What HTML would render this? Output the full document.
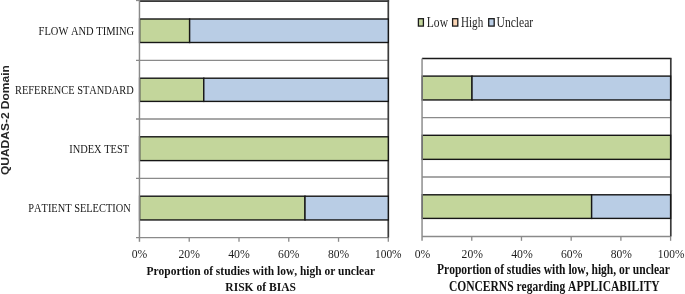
<!DOCTYPE html>
<html><head><meta charset="utf-8"><style>
html,body{margin:0;padding:0;background:#fff;width:685px;height:294px;overflow:hidden}
svg{display:block;will-change:transform}
text{font-kerning:none}
.s{font-family:"Liberation Serif",serif}
.b{font-family:"Liberation Serif",serif;font-weight:bold}
.y{font-family:"Liberation Sans",sans-serif;font-weight:bold}
</style></head><body>
<svg width="685" height="294" viewBox="0 0 685 294">
<rect x="0" y="0" width="685" height="294" fill="#fff"/>
<g stroke="#8a8a8a" stroke-width="1.3" fill="none">
<line x1="136" y1="60.4" x2="388.3" y2="60.4"/>
<line x1="136" y1="119.0" x2="388.3" y2="119.0"/>
<line x1="136" y1="178.4" x2="388.3" y2="178.4"/>
<line x1="136" y1="237.6" x2="388.3" y2="237.6"/>
<line x1="136" y1="0.5" x2="139.46" y2="0.5"/>
<line x1="189.23" y1="237.6" x2="189.23" y2="241.8"/>
<line x1="239.00" y1="237.6" x2="239.00" y2="241.8"/>
<line x1="288.76" y1="237.6" x2="288.76" y2="241.8"/>
<line x1="338.53" y1="237.6" x2="338.53" y2="241.8"/>
<line x1="388.30" y1="237.6" x2="388.30" y2="241.8"/>
</g>
<g stroke="#3c3c3c" fill="none"><line x1="139.46" y1="0.5" x2="389.1" y2="0.5" stroke-width="1" stroke="#5a5a5a"/><line x1="139.46" y1="1.5" x2="389.1" y2="1.5" stroke-width="1" stroke="#383838"/><line x1="388.3" y1="0" x2="388.3" y2="237.6" stroke-width="1.7"/></g>
<g stroke="#161616" stroke-width="1.4">
<rect x="139.61" y="19.0" width="50.02" height="23.50" fill="#C3D69B"/>
<rect x="189.63" y="19.0" width="198.67" height="23.50" fill="#B9CDE5"/>
<rect x="139.61" y="78.2" width="64.17" height="23.20" fill="#C3D69B"/>
<rect x="203.78" y="78.2" width="184.52" height="23.20" fill="#B9CDE5"/>
<rect x="139.61" y="136.8" width="248.69" height="23.80" fill="#C3D69B"/>
<rect x="139.61" y="196.2" width="165.39" height="23.75" fill="#C3D69B"/>
<rect x="305.00" y="196.2" width="83.30" height="23.75" fill="#B9CDE5"/>
</g>
<line x1="139.46" y1="0" x2="139.46" y2="241.8" stroke="#8a8a8a" stroke-width="1.45"/>
<g stroke="#8a8a8a" stroke-width="1.3" fill="none">
<line x1="422.05" y1="117.7" x2="670.6" y2="117.7"/>
<line x1="422.05" y1="177.0" x2="670.6" y2="177.0"/>
<line x1="422.05" y1="236.5" x2="670.6" y2="236.5"/>
<line x1="471.76" y1="236.5" x2="471.76" y2="240.8"/>
<line x1="521.47" y1="236.5" x2="521.47" y2="240.8"/>
<line x1="571.18" y1="236.5" x2="571.18" y2="240.8"/>
<line x1="620.89" y1="236.5" x2="620.89" y2="240.8"/>
<line x1="670.60" y1="236.5" x2="670.60" y2="240.8"/>
</g>
<g stroke="#3c3c3c" fill="none"><line x1="422.05" y1="58.5" x2="671.5" y2="58.5" stroke-width="1.4" stroke="#1a1a1a"/><line x1="670.8000000000001" y1="58.5" x2="670.8000000000001" y2="236.5" stroke-width="1.7"/></g>
<g stroke="#161616" stroke-width="1.4">
<rect x="422.20" y="76.1" width="49.80" height="23.85" fill="#C3D69B"/>
<rect x="472.00" y="76.1" width="198.60" height="23.85" fill="#B9CDE5"/>
<rect x="422.20" y="135.3" width="248.40" height="24.05" fill="#C3D69B"/>
<rect x="422.20" y="194.8" width="169.43" height="23.60" fill="#C3D69B"/>
<rect x="591.63" y="194.8" width="78.97" height="23.60" fill="#B9CDE5"/>
</g>
<line x1="422.05" y1="58.5" x2="422.05" y2="240.8" stroke="#8a8a8a" stroke-width="1.45"/>
<g stroke="#1c1c1c" stroke-width="1.3">
<rect x="418.4" y="18.7" width="5.0" height="7.4" fill="#C3D69B"/>
<rect x="452.6" y="18.7" width="5.2" height="7.4" fill="#FBD5B5"/>
<rect x="488.7" y="18.7" width="5.5" height="7.4" fill="#B9CDE5"/>
</g>
<g class="s" font-size="13.75" fill="#1e1e1e">
  <text x="426.8" y="27.45" textLength="21.2" lengthAdjust="spacingAndGlyphs">Low</text>
  <text x="461.0" y="27.45" textLength="22.2" lengthAdjust="spacingAndGlyphs">High</text>
  <text x="496.6" y="27.45" textLength="36.6" lengthAdjust="spacingAndGlyphs">Unclear</text>
</g>
<g class="s" font-size="12.3" fill="#161616">
  <text x="38.6" y="34.7" textLength="95.5" lengthAdjust="spacingAndGlyphs">FLOW AND TIMING</text>
  <text x="15" y="94.2" textLength="118.8" lengthAdjust="spacingAndGlyphs">REFERENCE STANDARD</text>
  <text x="69.2" y="152.8" textLength="59.9" lengthAdjust="spacingAndGlyphs">INDEX TEST</text>
  <text x="28.3" y="212" textLength="102.4" lengthAdjust="spacingAndGlyphs">PATIENT SELECTION</text>
</g>
<g class="s" font-size="13.5" fill="#1e1e1e" text-anchor="middle">
<text x="139.46" y="258" textLength="15.6" lengthAdjust="spacingAndGlyphs">0%</text>
<text x="189.23" y="258" textLength="21.4" lengthAdjust="spacingAndGlyphs">20%</text>
<text x="239.00" y="258" textLength="21.6" lengthAdjust="spacingAndGlyphs">40%</text>
<text x="288.76" y="258" textLength="21.4" lengthAdjust="spacingAndGlyphs">60%</text>
<text x="338.53" y="258" textLength="21.2" lengthAdjust="spacingAndGlyphs">80%</text>
<text x="388.30" y="258" textLength="26.6" lengthAdjust="spacingAndGlyphs">100%</text>
<text x="422.55" y="257.6" textLength="15.6" lengthAdjust="spacingAndGlyphs">0%</text>
<text x="472.26" y="257.6" textLength="21.4" lengthAdjust="spacingAndGlyphs">20%</text>
<text x="521.97" y="257.6" textLength="21.6" lengthAdjust="spacingAndGlyphs">40%</text>
<text x="571.68" y="257.6" textLength="21.4" lengthAdjust="spacingAndGlyphs">60%</text>
<text x="621.39" y="257.6" textLength="21.2" lengthAdjust="spacingAndGlyphs">80%</text>
<text x="671.10" y="257.6" textLength="26.6" lengthAdjust="spacingAndGlyphs">100%</text>
</g>
<g class="b" font-size="14" fill="#111">
  <text x="146.5" y="275.2" font-size="13.5" textLength="228.5" lengthAdjust="spacingAndGlyphs">Proportion of studies with low, high or unclear</text>
  <text x="225.3" y="290.8" font-size="13.3" textLength="70.6" lengthAdjust="spacingAndGlyphs">RISK of BIAS</text>
  <text x="437" y="274.3" textLength="233" lengthAdjust="spacingAndGlyphs">Proportion of studies with low, high, or unclear</text>
  <text x="448.9" y="291" textLength="210.8" lengthAdjust="spacingAndGlyphs">CONCERNS regarding APPLICABILITY</text>
</g>
<text class="y" font-size="10.2" fill="#262626" transform="translate(8.7,175.0) rotate(-90)" textLength="109.8" lengthAdjust="spacingAndGlyphs">QUADAS-2 Domain</text>
</svg>
</body></html>
